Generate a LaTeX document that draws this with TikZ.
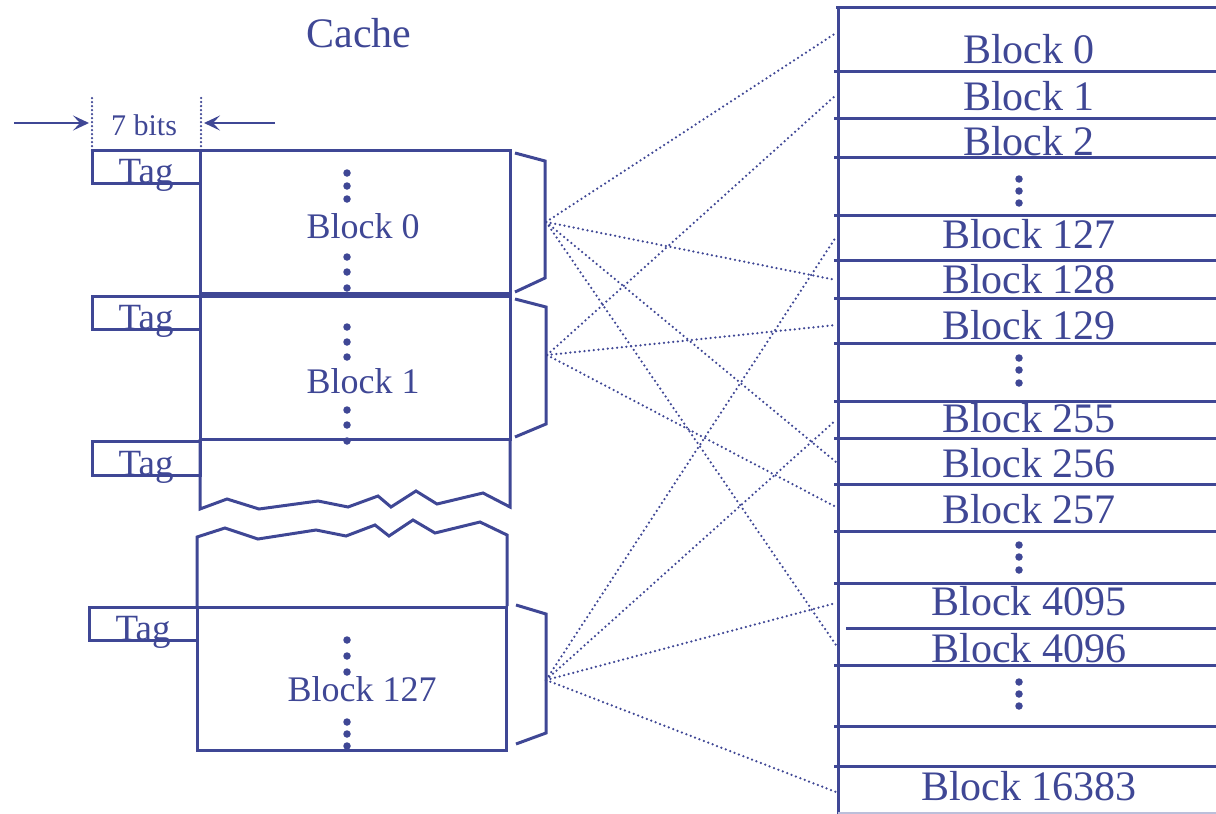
\documentclass[tikz,border=0pt]{standalone}
\usepackage{fontspec}
\setmainfont{Liberation Serif}
\usetikzlibrary{arrows.meta}
\definecolor{navy}{RGB}{63,71,149}
\tikzset{
  ln/.style={draw=navy,line width=3pt},
  box/.style={draw=navy,line width=3pt,inner sep=0pt,outer sep=0pt,rectangle},
  dotl/.style={draw=navy,line width=2.5pt,line cap=round,dash pattern=on 0pt off 4.7pt},
  vdot/.style={draw=navy,line width=2.5pt,line cap=round,dash pattern=on 0pt off 4pt},
  bul/.style={fill=navy,circle,inner sep=0pt,minimum size=7.5pt},
  bigtxt/.style={text=navy,font=\fontsize{42}{42}\selectfont,inner sep=0pt,anchor=base},
  midtxt/.style={text=navy,font=\fontsize{36}{36}\selectfont,inner sep=0pt,anchor=base},
  tagtxt/.style={text=navy,font=\fontsize{37}{37}\selectfont,inner sep=0pt,anchor=base},
  smalltxt/.style={text=navy,font=\fontsize{30}{30}\selectfont,inner sep=0pt,anchor=base},
  arr/.style={draw=navy,line width=2.4pt,-{Stealth[length=16pt,width=15pt,inset=7pt]}}
}
\begin{document}
\begin{tikzpicture}[x=1pt,y=-1pt]
\useasboundingbox (0,0) rectangle (1216,814);
% ---- title
\node[bigtxt] (cache) at (359,47) {Cache};
% ---- 7 bits
\coordinate (d1t) at (92,98); \coordinate (d1b) at (92,150);
\coordinate (d2t) at (201,98); \coordinate (d2b) at (201,150);
\draw[vdot] (d1t) -- (d1b);
\draw[vdot] (d2t) -- (d2b);
\coordinate (al) at (14,123); \coordinate (alt) at (89,123);
\coordinate (ar) at (275,123); \coordinate (art) at (204,123);
\draw[arr] (al) -- (alt);
\draw[arr] (ar) -- (art);
\node[smalltxt] (bits) at (144,135) {7 bits};
% ---- tag boxes
\node[box,minimum width=108pt,minimum height=33pt] (tag0) at (146,166.5) {};
\node[box,minimum width=108pt,minimum height=33pt] (tag1) at (146,312.5) {};
\node[box,minimum width=108pt,minimum height=34pt] (tag2) at (146,458) {};
\node[box,minimum width=108pt,minimum height=33pt] (tag3) at (143,623.5) {};
\node[tagtxt] at (146,183) {Tag};
\node[tagtxt] at (146,329) {Tag};
\node[tagtxt] at (146,475) {Tag};
\node[tagtxt] at (143,640) {Tag};
% ---- cache blocks
\node[box,minimum width=310pt,minimum height=143pt] (cb0) at (355,221.5) {};
\node[box,minimum width=310pt,minimum height=143pt] (cb1) at (355,367.5) {};
\node[box,minimum width=309pt,minimum height=143pt] (cb127) at (351.5,678.5) {};
\node[midtxt] (t0) at (363,238) {Block 0};
\node[midtxt] (t1) at (363,393) {Block 1};
\node[midtxt] (t127) at (362,701) {Block 127};
\foreach \y in {173,186,199,257,272,288,327,342,357,410,425,441}
  \node[bul] at (347,\y) {};
\foreach \y in {640,656,672,722,734,746}
  \node[bul] at (347,\y) {};
% ---- broken block
\draw[ln,line join=miter] (200,439) -- (200,509) -- (227,499) -- (259,509) -- (318,501) -- (348,507) -- (378,496) -- (391,507) -- (416,491) -- (437,504) -- (483,493) -- (510,507) -- (510,439);
\draw[ln,line join=miter] (197,607) -- (197,537) -- (225,528) -- (258,539) -- (316,530) -- (346,536) -- (375,525) -- (389,536) -- (413,520) -- (435,533) -- (480,522) -- (507,535) -- (507,606);
% ---- brackets
\coordinate (a0) at (546,222);
\coordinate (a1) at (547,355);
\coordinate (a127) at (546,680);
\draw[ln] (515,153) -- (545,161) -- (545,278) -- (515,292);
\draw[ln] (515,299) -- (546,307) -- (546,424) -- (515,437);
\draw[ln] (516,605) -- (546,614) -- (546,733) -- (516,744);
% ---- main memory
\draw[ln] (838,7) -- (838,814);
\draw[ln] (836,7) -- (1216,7);
\foreach \y in {71,118,157,215,260,298,343,401,438,484,531,583,665,726,766}
  \draw[ln] (834,\y) -- (1216,\y);
\draw[ln] (846,628) -- (1216,628);
\draw[draw=navy!35,line width=1.5pt] (838,813) -- (1216,813);
\node[bigtxt] (m0) at (1029,63) {Block 0};
\node[bigtxt] (m1) at (1029,110) {Block 1};
\node[bigtxt] (m2) at (1029,155) {Block 2};
\node[bigtxt] (m127) at (1029,248) {Block 127};
\node[bigtxt] (m128) at (1029,293) {Block 128};
\node[bigtxt] (m129) at (1029,339) {Block 129};
\node[bigtxt] (m255) at (1029,432) {Block 255};
\node[bigtxt] (m256) at (1029,477) {Block 256};
\node[bigtxt] (m257) at (1029,523) {Block 257};
\node[bigtxt] (m4095) at (1029,615) {Block 4095};
\node[bigtxt] (m4096) at (1029,662) {Block 4096};
\node[bigtxt] (m16383) at (1029,800) {Block 16383};
\foreach \y in {179,191,203,358,370,383,545,557,570,682,694,706}
  \node[bul] at (1019,\y) {};
% ---- mapping endpoints
\coordinate (e0) at (836,33);
\coordinate (e1) at (836,95);
\coordinate (e127) at (836,237);
\coordinate (e128) at (836,280);
\coordinate (e129) at (836,325);
\coordinate (e255) at (836,420);
\coordinate (e256) at (836,462);
\coordinate (e257) at (836,507);
\coordinate (e4095) at (836,603);
\coordinate (e4096) at (836,645);
\coordinate (e16383) at (836,792);
\foreach \e in {e0,e128,e256,e4096} \draw[dotl] (a0) -- (\e);
\foreach \e in {e1,e129,e257} \draw[dotl] (a1) -- (\e);
\foreach \e in {e127,e255,e4095,e16383} \draw[dotl] (a127) -- (\e);
\end{tikzpicture}
\end{document}
